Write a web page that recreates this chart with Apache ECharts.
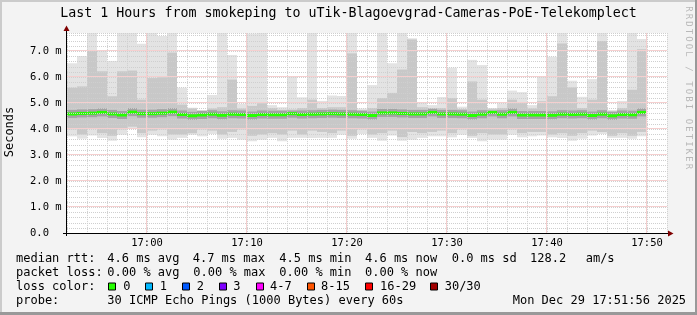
<!DOCTYPE html>
<html><head><meta charset="utf-8">
<script src="https://cdn.jsdelivr.net/npm/echarts@6/dist/echarts.min.js"></script>
<style>html,body{margin:0;padding:0;background:#f3f3f3}#c{width:697px;height:315px}</style>
</head><body><div id="c"></div>
<script>
// time axis in minutes since midnight: 16:52 .. 17:52, one sample per minute
const startMinute = 1012;
const endMinute = 1072;
const xMajorTicks = [1020, 1030, 1040, 1050, 1060, 1070];
const xTickLabels = ['17:00','17:10','17:20','17:30','17:40','17:50'];
const yMajorTicks = [1, 2, 3, 4, 5, 6, 7];
const yTickLabels = ['0.0','1.0 m','2.0 m','3.0 m','4.0 m','5.0 m','6.0 m','7.0 m'];

// values in ms, one per minute starting 16:52
const medianMs = [4.59,4.61,4.62,4.65,4.59,4.55,4.66,4.60,4.60,4.62,
                  4.66,4.57,4.52,4.55,4.58,4.54,4.58,4.57,4.53,4.57,
                  4.56,4.56,4.60,4.57,4.58,4.59,4.60,4.59,4.58,4.57,
                  4.53,4.63,4.63,4.61,4.59,4.59,4.65,4.59,4.59,4.58,
                  4.53,4.58,4.65,4.58,4.65,4.55,4.55,4.55,4.54,4.58,
                  4.57,4.58,4.53,4.58,4.52,4.57,4.56,4.65];
const minMs = [3.73,3.64,3.76,3.67,3.56,3.79,4.05,3.69,3.79,3.73,
               3.60,3.67,3.79,3.73,3.82,3.64,3.67,3.60,3.54,3.60,
               3.67,3.54,3.67,3.67,3.67,3.67,3.67,3.79,3.64,3.82,
               3.67,3.56,3.76,3.56,3.60,3.67,3.73,3.73,3.69,3.79,
               3.67,3.54,3.60,3.60,3.79,3.69,3.73,3.76,3.69,3.67,
               3.56,3.64,3.76,3.82,3.67,3.67,3.64,3.73];
const loMs = [4.00,3.80,4.05,3.85,3.75,4.00,4.10,3.85,3.95,4.00,
              3.80,3.80,3.85,4.00,3.95,3.80,3.90,4.00,3.75,3.80,
              3.85,3.80,3.95,3.80,3.95,3.90,3.85,3.95,3.75,4.00,
              3.80,3.85,3.95,3.70,3.90,3.85,3.90,3.95,3.85,4.00,
              3.75,3.85,3.80,3.80,4.00,3.85,3.90,3.90,3.80,3.85,
              3.75,3.85,3.95,3.90,3.75,3.85,3.75,3.90];
const hiMs = [5.60,5.65,7.03,6.23,5.27,6.23,6.26,5.14,5.97,6.00,
              6.95,4.95,4.80,4.72,4.80,4.85,5.91,4.80,4.90,5.00,
              4.82,4.75,4.70,4.82,5.14,4.82,4.85,4.85,6.92,4.72,
              4.82,5.20,5.40,6.30,7.45,4.85,4.80,4.82,5.20,4.78,
              5.84,5.14,4.70,4.82,5.14,5.01,4.80,5.08,5.27,7.30,
              5.61,4.82,5.14,7.40,4.70,4.82,5.52,7.08];
const maxMs = [6.54,6.82,8.20,7.05,6.63,8.00,8.10,7.29,7.90,7.59,
               8.30,5.60,4.83,4.74,5.32,7.90,6.86,4.98,7.68,8.00,
               4.93,4.85,6.05,5.23,7.90,5.09,5.30,5.28,8.00,4.80,
               5.70,8.10,6.54,7.90,7.50,5.02,4.93,5.24,6.37,4.87,
               6.67,6.47,4.74,5.00,5.49,5.43,4.93,6.05,6.79,8.00,
               5.87,5.25,5.93,7.90,4.74,5.09,7.90,7.47];

const lossLabels = ['0','1','2','3','4-7','8-15','16-29','30/30'];
const lossColors = ['#26ff00','#00b8ff','#0059ff','#7e00ff','#ff00ff','#ff5500','#ff0000','#a10000'];

const FONT = 'DejaVu Sans Mono';
const chart = echarts.init(document.getElementById('c'), null, {renderer:'canvas', width:697, height:315});
const minutes = medianMs.map((_, i) => startMinute + i);
const Y_MAX = 7.7;
function band(lo, hi) { return minutes.map((m, i) => [m, lo[i], hi[i]]); }
function rectItem(color) {
  return function (params, api) {
    const x = api.value(0), a = api.value(1), b = api.value(2);
    const p0 = api.coord([x, b]), p1 = api.coord([x + 1, a]);
    const cs = params.coordSys;
    const r = echarts.graphic.clipRectByRect(
      {x: p0[0], y: p0[1], width: p1[0] - p0[0], height: p1[1] - p0[1]},
      {x: cs.x, y: cs.y, width: cs.width, height: cs.height});
    return r ? {type: 'rect', shape: r, style: {fill: color}} : null;
  };
}
function medItem(params, api) {
  const x = api.value(0), m = api.value(1);
  const p0 = api.coord([x, m]), p1 = api.coord([x + 1, m]);
  const w = p1[0] - p0[0];
  return {type: 'group', children: [
    {type: 'rect', shape: {x: p0[0], y: p0[1] - 4, width: w, height: 8}, style: {fill: 'rgba(70,70,70,0.28)'}},
    {type: 'rect', shape: {x: p0[0], y: p0[1] - 1.5, width: w, height: 3}, style: {fill: lossColors[0]}}
  ]};
}
const G = '#cfcfcf', R = '#f5cfcf';
// major grid lines drawn from the tick value arrays, over the smoke
function majorGrid(params, api) {
  const cs = params.coordSys;
  const kind = api.value(0), v = api.value(1);
  if (kind === 0) {
    const p = api.coord([v, 0]);
    const x = Math.round(p[0]) - 0.5;
    return {type: 'rect', shape: {x: x - 0.5, y: cs.y, width: 1, height: cs.height}, style: {fill: R}};
  }
  const p = api.coord([startMinute, v]);
  const y = Math.round(p[1]) - 0.5;
  return {type: 'rect', shape: {x: cs.x, y: y - 0.5, width: cs.width, height: 1}, style: {fill: R}};
}
const majorData = xMajorTicks.map(v => [0, v]).concat(yMajorTicks.map(v => [1, v]));
const graphics = [];
function txt(x, y, s, opt) {
  graphics.push(Object.assign({type: 'text', x: x, y: y, silent: true,
    style: Object.assign({text: s, font: '12px "' + FONT + '"', fill: '#000', verticalAlign: 'middle', align: 'left'}, opt || {})}));
}
// frame / border
graphics.push({type: 'rect', shape: {x: 0, y: 0, width: 697, height: 315}, style: {fill: '#f3f3f3'}, z: -10, silent: true});
graphics.push({type: 'rect', shape: {x: 0, y: 0, width: 697, height: 2}, style: {fill: '#cbcbcb'}, silent: true});
graphics.push({type: 'rect', shape: {x: 0, y: 0, width: 2, height: 315}, style: {fill: '#cbcbcb'}, silent: true});
graphics.push({type: 'rect', shape: {x: 695, y: 0, width: 2, height: 315}, style: {fill: '#999'}, silent: true});
graphics.push({type: 'rect', shape: {x: 0, y: 312, width: 697, height: 3}, style: {fill: '#999'}, silent: true});
// axes lines + arrows
graphics.push({type: 'line', shape: {x1: 66.5, y1: 236, x2: 66.5, y2: 29}, style: {stroke: '#000', lineWidth: 1}, z: 20, silent: true});
graphics.push({type: 'line', shape: {x1: 63, y1: 233.5, x2: 669, y2: 233.5}, style: {stroke: '#000', lineWidth: 1}, z: 20, silent: true});
graphics.push({type: 'polygon', shape: {points: [[63.5, 31], [69.5, 31], [66.5, 25.5]]}, style: {fill: '#7f0000'}, z: 20, silent: true});
graphics.push({type: 'polygon', shape: {points: [[668, 230.5], [668, 236.5], [673.5, 233.5]]}, style: {fill: '#7f0000'}, z: 20, silent: true});
// title
txt(348.5, 14, 'Last 1 Hours from smokeping to uTik-Blagoevgrad-Cameras-PoE-Telekomplect', {font: '13.3px "' + FONT + '"', align: 'center'});
// y axis title
graphics.push({type: 'text', x: 10, y: 132, rotation: Math.PI / 2, silent: true,
  style: {text: 'Seconds', font: '12px "' + FONT + '"', fill: '#000', align: 'center', verticalAlign: 'middle'}});
// watermark (letters spaced along the right edge)
const watermark = 'RRDTOOL / TOBI OETIKER';
watermark.split('').forEach((ch, i) => {
  graphics.push({type: 'text', x: 688, y: 9 + i * 7.5, rotation: -Math.PI / 2, silent: true,
    style: {text: ch, font: '9px "' + FONT + '"', fill: '#b8b8b8', align: 'center', verticalAlign: 'middle'}});
});
// legend
txt(16, 259, 'median rtt:');
txt(107.3, 259, '4.6 ms avg'); txt(192.7, 259, '4.7 ms max'); txt(279.3, 259, '4.5 ms min');
txt(365, 259, '4.6 ms now'); txt(451.7, 259, '0.0 ms sd'); txt(530, 259, '128.2'); txt(585.7, 259, 'am/s');
txt(16, 272.7, 'packet loss:');
txt(107.3, 272.7, '0.00 % avg'); txt(193.3, 272.7, '0.00 % max'); txt(279.3, 272.7, '0.00 % min'); txt(365, 272.7, '0.00 % now');
txt(16, 287.3, 'loss color:');
const boxX = [108.5, 145.5, 182.5, 219.5, 256.5, 307.5, 365.5, 430.5];
const labX = [123.3, 159.7, 196.7, 233.3, 270, 321, 380, 444.7];
lossLabels.forEach((l, i) => {
  graphics.push({type: 'rect', shape: {x: boxX[i], y: 283, width: 7, height: 7}, style: {fill: lossColors[i], stroke: '#000', lineWidth: 1}, silent: true});
  txt(labX[i], 287.3, l);
});
txt(16, 300.7, 'probe:');
txt(107.3, 300.7, '30 ICMP Echo Pings (1000 Bytes) every 60s');
txt(512.7, 300.7, 'Mon Dec 29 17:51:56 2025');

const option = {
  animation: false,
  backgroundColor: '#f3f3f3',
  grid: {left: 67, top: 33.1, width: 600, height: 200.2, show: true, backgroundColor: '#fff', borderWidth: 0},
  xAxis: {
    type: 'value', min: startMinute, max: endMinute, interval: 2, z: 10,
    axisLine: {show: false},
    axisTick: {show: false},
    axisLabel: {
      margin: 4, fontFamily: FONT, fontSize: 10.5, color: '#000',
      formatter: v => { const k = xMajorTicks.indexOf(v); return k >= 0 ? xTickLabels[k] : ''; }
    },
    splitLine: {show: true, lineStyle: {color: G, type: 'dotted', width: 1}}
  },
  yAxis: {
    type: 'value', min: 0, max: Y_MAX, interval: 0.2, z: 10,
    axisLine: {show: false},
    axisTick: {show: false},
    axisLabel: {
      margin: 37, align: 'left', fontFamily: FONT, fontSize: 10.5, color: '#000',
      formatter: v => { const r = Math.round(v); return Math.abs(v - r) < 1e-6 && r < yTickLabels.length ? yTickLabels[r] : ''; }
    },
    splitLine: {show: true, lineStyle: {color: G, type: 'dotted', width: 1}}
  },
  graphic: graphics,
  series: [
    {type: 'custom', renderItem: rectItem('#e3e3e3'), data: band(minMs, maxMs), encode: {x: 0, y: [1, 2]}, z: 2},
    {type: 'custom', renderItem: rectItem('#c8c8c8'), data: band(loMs, hiMs), encode: {x: 0, y: [1, 2]}, z: 3},
    {type: 'custom', renderItem: medItem, data: minutes.map((m, i) => [m, medianMs[i]]), encode: {x: 0, y: 1}, z: 4},
    {type: 'custom', renderItem: majorGrid, data: majorData, dimensions: ['kind', 'v'], encode: {x: 1, y: 1}, z: 15, silent: true}
  ]
};
chart.setOption(option);
</script></body></html>
